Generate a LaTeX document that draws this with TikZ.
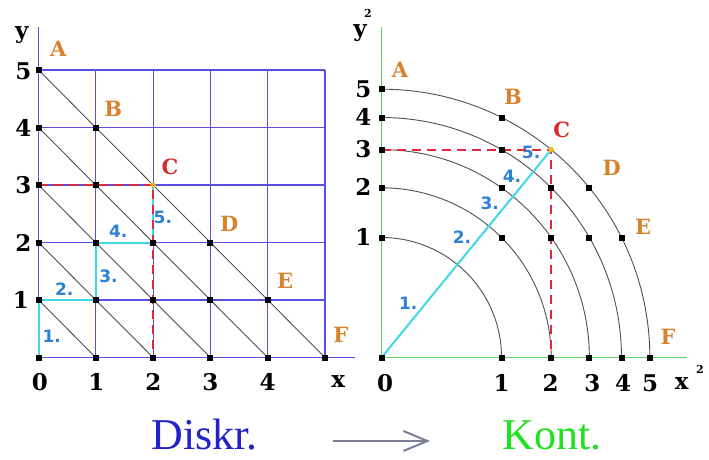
\documentclass[tikz,border=0pt]{standalone}
\usepackage{fontspec}
\setmainfont{DejaVu Serif}
\newfontfamily\lsans{DejaVu Sans}
\newfontfamily\tms{Liberation Serif}
\usetikzlibrary{arrows.meta}
\definecolor{gridblue}{HTML}{5A50E0}
\definecolor{lblorange}{HTML}{D8822E}
\definecolor{lblred}{HTML}{D82C2C}
\definecolor{stepblue}{HTML}{2E7FD6}
\definecolor{cyanline}{HTML}{3ED8E8}
\definecolor{reddash}{HTML}{E0283C}
\definecolor{axgreen}{HTML}{5CD85C}
\definecolor{diagray}{HTML}{505050}
\definecolor{cdotc}{HTML}{F0B820}
\definecolor{diskblue}{HTML}{2222CC}
\definecolor{kontgreen}{HTML}{22E022}
\definecolor{arrowgray}{HTML}{7A7F95}
\tikzset{
  dot/.style={rectangle, fill=black, minimum size=6pt, inner sep=0pt},
  cdot/.style={circle, fill=cdotc, minimum size=5.5pt, inner sep=0pt},
  gridln/.style={draw=gridblue, line width=1.2pt},
  diagln/.style={draw=diagray, line width=0.9pt},
  cyanln/.style={draw=cyanline, line width=2pt},
  redln/.style={draw=reddash, line width=2pt, dash pattern=on 9pt off 6pt},
  greenax/.style={draw=axgreen, line width=1.6pt},
  tick/.style={font=\bfseries\fontsize{23}{23}\selectfont, inner sep=0pt},
  axlbl/.style={font=\bfseries\fontsize{23}{23}\selectfont, inner sep=0pt},
  suplbl/.style={font=\bfseries\fontsize{11}{11}\selectfont, inner sep=0pt},
  ptlbl/.style={font=\bfseries\fontsize{21}{21}\selectfont, text=lblorange, inner sep=0pt},
  ptlblred/.style={font=\bfseries\fontsize{21}{21}\selectfont, text=lblred, inner sep=0pt},
  steplbl/.style={font=\lsans\bfseries\fontsize{17}{17}\selectfont, text=stepblue, inner sep=1pt},
  bigtext/.style={font=\tms\fontsize{44}{44}\selectfont, anchor=base, inner sep=0pt},
  bigarrow/.style={draw=arrowgray, line width=2pt, -{Straight Barb[length=24pt,width=20pt,line width=2pt]}}
}
\begin{document}
\begin{tikzpicture}[x=1pt,y=1pt]
\useasboundingbox[fill=white] (0,0) rectangle (709,-459);

% ---------------- left panel (discrete) ----------------
\begin{scope}[shift={(38.5pt,-357.5pt)}, x=57.3pt, y=57.5pt]
  \foreach \i in {0,...,5}{
    \pgfmathtruncatemacro\m{5-\i}
    \foreach \j in {0,...,\m}{ \coordinate (L\i\j) at (\i,\j); }
  }
  \foreach \k in {0,...,5}{
    \draw[gridln] (\k,0) -- (\k,5);
    \draw[gridln] (0,\k) -- (5,\k);
  }
  \draw[gridln] (0,0) -- (5.52,0);
  \draw[gridln] (0,0) -- (0,5.74);
  \foreach \k in {1,...,5}{ \draw[diagln] (L0\k) -- (L\k0); }
  \draw[cyanln] (L00) -- (L01) -- (L11) -- (L12) -- (L22) -- (L23);
  \draw[redln] (L03) -- (L23) -- (L20);
  \foreach \i in {0,...,5}{
    \pgfmathtruncatemacro\m{5-\i}
    \foreach \j in {0,...,\m}{
      \ifnum\i\j=23 \node[cdot] (dL\i\j) at (L\i\j) {};
      \else \node[dot] (dL\i\j) at (L\i\j) {}; \fi
    }
  }
  \node[steplbl] (sL1) at (0.23,0.37) {1.};
  \node[steplbl] (sL2) at (0.45,1.19) {2.};
  \node[steplbl] (sL3) at (1.22,1.42) {3.};
  \node[steplbl] (sL4) at (1.39,2.19) {4.};
  \node[steplbl] (sL5) at (2.17,2.44) {5.};
\end{scope}
\node[ptlbl] (lA) at (58.3,-49.3) {A};
\node[ptlbl] (lB) at (113.3,-109.3) {B};
\node[ptlblred] (lC) at (170,-166.7) {C};
\node[ptlbl] (lD) at (229.3,-224) {D};
\node[ptlbl] (lE) at (285,-281) {E};
\node[ptlbl] (lF) at (340.7,-335) {F};
\node[tick] (tx0) at (40,-381.7) {0};
\node[tick] (tx1) at (96.3,-381.7) {1};
\node[tick] (tx2) at (153.3,-381.7) {2};
\node[tick] (tx3) at (210.3,-381.7) {3};
\node[tick] (tx4) at (267.7,-381.7) {4};
\node[axlbl] (xl) at (338.3,-382) {x};
\node[tick] (ty5) at (23.3,-71.7) {5};
\node[tick] (ty4) at (23.3,-128) {4};
\node[tick] (ty3) at (23.3,-185) {3};
\node[tick] (ty2) at (23.3,-243) {2};
\node[tick] (ty1) at (21,-300) {1};
\node[axlbl] (yl) at (21.7,-35) {y};

% ---------------- right panel (continuous) ----------------
\begin{scope}[shift={(381.5pt,-357.5pt)}, x=120pt, y=120pt]
  \foreach \i in {0,...,5}{
    \pgfmathtruncatemacro\m{5-\i}
    \foreach \j in {0,...,\m}{ \coordinate (R\i\j) at ({sqrt(\i)},{sqrt(\j)}); }
  }
  \draw[greenax] (0,0) -- (0,2.757);
  \draw[greenax] (0,0) -- (2.543,0);
  \foreach \k in {1,...,5}{
    \draw[diagln] (R\k0) arc[start angle=0, end angle=90, radius={sqrt(\k)}];
  }
  \draw[cyanln] (R00) -- (R23)
    node[steplbl, pos=0.2236, anchor=south east] (sR1) {1.}
    node[steplbl, pos=0.540, anchor=south east] (sR2) {2.}
    node[steplbl, pos=0.7035, anchor=south east] (sR3) {3.}
    node[steplbl, pos=0.8345, anchor=south east] (sR4) {4.}
    node[steplbl, pos=0.947, anchor=south east] (sR5) {5.};
  \draw[redln] (R03) -- (R23) -- (R20);
  \foreach \i in {0,...,5}{
    \pgfmathtruncatemacro\m{5-\i}
    \foreach \j in {0,...,\m}{
      \ifnum\i\j=23 \node[cdot] (dR\i\j) at (R\i\j) {};
      \else \node[dot] (dR\i\j) at (R\i\j) {}; \fi
    }
  }
\end{scope}
\node[ptlbl] (rA) at (400,-70) {A};
\node[ptlbl] (rB) at (513,-96.7) {B};
\node[ptlblred] (rC) at (561.7,-130) {C};
\node[ptlbl] (rD) at (611.7,-168.3) {D};
\node[ptlbl] (rE) at (643,-226.7) {E};
\node[ptlbl] (rF) at (668,-336.7) {F};
\node[tick] (ux0) at (385,-383) {0};
\node[tick] (ux1) at (501.7,-383) {1};
\node[tick] (ux2) at (550.7,-383) {2};
\node[tick] (ux3) at (592.3,-383) {3};
\node[tick] (ux4) at (623,-383) {4};
\node[tick] (ux5) at (650,-383) {5};
\node[axlbl] (xl2) at (681.7,-384) {x};
\node[suplbl] (xs2) at (700,-369.3) {2};
\node[tick] (uy5) at (363.3,-89) {5};
\node[tick] (uy4) at (363.3,-116.7) {4};
\node[tick] (uy3) at (363.3,-149) {3};
\node[tick] (uy2) at (363.3,-186.7) {2};
\node[tick] (uy1) at (363.3,-236.7) {1};
\node[axlbl] (yl2) at (360,-33.3) {y};
\node[suplbl] (ys2) at (368,-13.3) {2};

% ---------------- bottom ----------------
\node[bigtext, text=diskblue] (disk) at (204.7,-449) {Diskr.};
\node[bigtext, text=kontgreen] (kont) at (552,-449) {Kont.};
\coordinate (arS) at (333,-441);
\coordinate (arE) at (430,-441);
\draw[bigarrow] (arS) -- (arE);
\end{tikzpicture}
\end{document}
